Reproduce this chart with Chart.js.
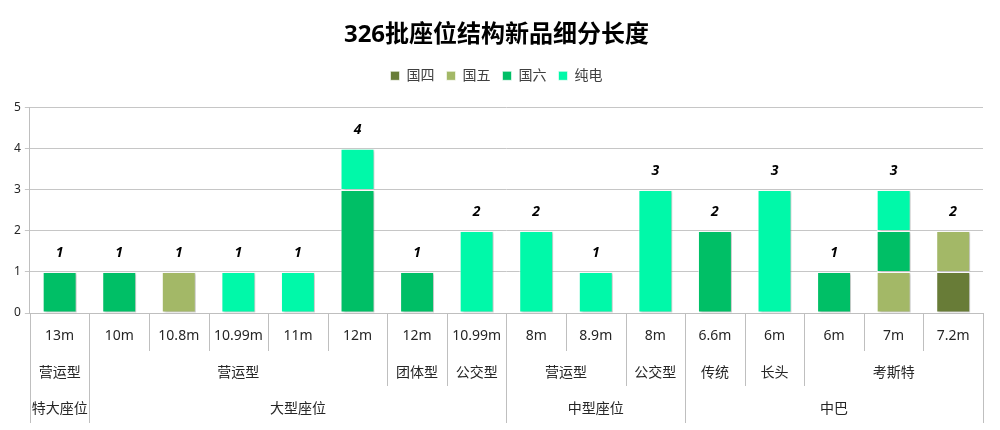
<!DOCTYPE html>
<html>
<head>
<meta charset="utf-8">
<script src="https://cdn.jsdelivr.net/npm/chart.js@4"></script>
<style>
  html, body { margin: 0; padding: 0; background: #fff; }
  #wrap { width: 1000px; height: 430px; }
</style>
</head>
<body>
<div id="wrap"><canvas id="chart"></canvas></div>
<script>
// Bottom level: length of each model
const categories = ['13m', '10m', '10.8m', '10.99m', '11m', '12m', '12m', '10.99m', '8m', '8.9m', '8m', '6.6m', '6m', '6m', '7m', '7.2m'];

// Series (null = no bar)
const guo4     = [null, null, null, null, null, null, null, null, null, null, null, null, null, null, null, 1];
const guo5     = [null, null, 1, null, null, null, null, null, null, null, null, null, null, null, 1, 1];
const guo6     = [1, 1, null, null, null, 3, 1, null, null, null, null, 2, null, 1, 1, null];
const chundian = [null, null, null, 1, 1, 1, null, 2, 2, 1, 3, null, 3, null, 1, null];

// Middle level: usage type and how many categories it covers
const typeLabels = ['营运型', '营运型', '团体型', '公交型', '营运型', '公交型', '传统', '长头', '考斯特'];
const typeSpans  = [1, 5, 1, 1, 2, 1, 1, 1, 3];

// Top level: seat class
const classLabels = ['特大座位', '大型座位', '中型座位', '中巴'];
const classSpans  = [1, 7, 3, 5];

const yTicks = [0, 1, 2, 3, 4, 5];

const FONT = "'Noto Sans', 'Noto Sans CJK SC', sans-serif";
const LINE = '#bfbfbf';

// extra gap between legend and plot
const legendGap = {
  id: 'legendGap',
  beforeInit(chart) {
    const fit = chart.legend.fit;
    chart.legend.fit = function () {
      fit.bind(chart.legend)();
      this.height += 15;
    };
  }
};

// light drop shadow under the bars
const barShadow = {
  id: 'barShadow',
  beforeDatasetsDraw(chart) {
    const ctx = chart.ctx;
    ctx.save();
    ctx.shadowColor = 'rgba(0,0,0,0.22)';
    ctx.shadowBlur = 2;
    ctx.shadowOffsetX = 2;
    ctx.shadowOffsetY = 1;
  },
  afterDatasetsDraw(chart) {
    chart.ctx.restore();
  }
};

// stack totals above each column
const totalLabels = {
  id: 'totalLabels',
  afterDatasetsDraw(chart) {
    const ctx = chart.ctx;
    const x = chart.scales.x, y = chart.scales.y;
    ctx.save();
    ctx.font = 'italic bold 14px ' + FONT;
    ctx.fillStyle = '#000';
    ctx.textAlign = 'center';
    ctx.textBaseline = 'middle';
    categories.forEach((c, i) => {
      let total = 0;
      chart.data.datasets.forEach(ds => { total += ds.data[i] || 0; });
      ctx.fillText(String(total), x.getPixelForValue(i), y.getPixelForValue(total) - 19);
    });
    ctx.restore();
  }
};

// three-row category axis
const multiAxis = {
  id: 'multiAxis',
  afterDraw(chart) {
    const ctx = chart.ctx;
    const x = chart.scales.x;
    const area = chart.chartArea;
    const n = categories.length;
    const w = (area.right - area.left) / n;
    const edge = i => area.left + i * w;
    const y0 = area.bottom;
    const rowBottom = [y0 + 38, y0 + 73, y0 + 110];
    const rowText = [y0 + 23, y0 + 60, y0 + 96];

    // level of every boundary
    const level = new Array(n + 1).fill(0);
    let k = 0;
    typeSpans.forEach(s => { level[k] = Math.max(level[k], 1); k += s; level[k] = Math.max(level[k], 1); });
    k = 0;
    classSpans.forEach(s => { level[k] = 2; k += s; level[k] = 2; });

    ctx.save();
    ctx.strokeStyle = LINE;
    ctx.lineWidth = 1;
    for (let i = 0; i <= n; i++) {
      const px = Math.round(edge(i)) + 0.5;
      ctx.beginPath();
      ctx.moveTo(px, y0);
      ctx.lineTo(px, rowBottom[level[i]]);
      ctx.stroke();
    }

    ctx.fillStyle = '#262626';
    ctx.font = '14px ' + FONT;
    ctx.textAlign = 'center';
    ctx.textBaseline = 'middle';
    categories.forEach((c, i) => ctx.fillText(c, x.getPixelForValue(i), rowText[0]));

    const drawRow = (labels, spans, row) => {
      let start = 0;
      labels.forEach((lab, j) => {
        const l = edge(start), r = edge(start + spans[j]);
        ctx.save();
        ctx.beginPath();
        ctx.rect(l + 1, rowBottom[row - 1], r - l - 1, rowBottom[row] - rowBottom[row - 1]);
        ctx.clip();
        ctx.fillText(lab, (l + r) / 2, rowText[row]);
        ctx.restore();
        start += spans[j];
      });
    };
    drawRow(typeLabels, typeSpans, 1);
    drawRow(classLabels, classSpans, 2);
    ctx.restore();
  }
};

Chart.defaults.font.family = FONT;
Chart.defaults.color = '#262626';

new Chart(document.getElementById('chart'), {
  type: 'bar',
  data: {
    labels: categories,
    datasets: [
      { label: '国四', data: guo4, backgroundColor: '#687c37' },
      { label: '国五', data: guo5, backgroundColor: '#a3b867' },
      { label: '国六', data: guo6, backgroundColor: '#00bf66' },
      { label: '纯电', data: chundian, backgroundColor: '#00f9a9' }
    ].map(d => Object.assign(d, {
      borderColor: 'rgba(255,255,255,0.6)',
      borderWidth: 1,
      borderSkipped: false,
      barPercentage: 0.57,
      categoryPercentage: 1
    }))
  },
  options: {
    responsive: true,
    maintainAspectRatio: false,
    animation: false,
    layout: { padding: { left: 10, right: 17, top: 0, bottom: 109 } },
    plugins: {
      title: {
        display: true,
        text: '326批座位结构新品细分长度',
        color: '#000',
        font: { size: 24, weight: 'bold', family: FONT },
        padding: { top: 21, bottom: 7 }
      },
      legend: {
        display: true,
        labels: {
          boxWidth: 9,
          boxHeight: 9,
          padding: 12,
          color: '#404040',
          font: { size: 14, family: FONT }
        }
      },
      tooltip: { enabled: false }
    },
    scales: {
      x: {
        stacked: true,
        grid: { display: false },
        border: { display: true, color: LINE },
        ticks: { display: false }
      },
      y: {
        stacked: true,
        min: yTicks[0],
        max: yTicks[yTicks.length - 1],
        afterBuildTicks(axis) { axis.ticks = yTicks.map(v => ({ value: v })); },
        grid: { color: '#c6c6c6', tickLength: 5 },
        border: { display: true, color: LINE },
        ticks: { font: { size: 12, family: FONT }, color: '#262626', padding: 4 }
      }
    }
  },
  plugins: [legendGap, barShadow, totalLabels, multiAxis]
});
</script>
</body>
</html>
